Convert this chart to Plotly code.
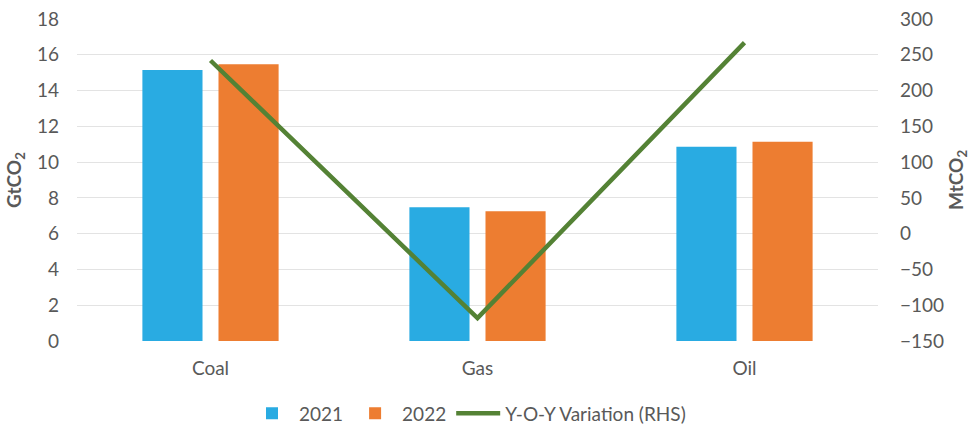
import plotly.graph_objects as go

categories = ["Coal", "Gas", "Oil"]
values_2021 = [15.15, 7.47, 10.86]
values_2022 = [15.47, 7.25, 11.14]
yoy_variation = [242, -118, 267]

left_ticks = list(range(0, 19, 2))
right_ticks = list(range(-150, 301, 50))

FONT = "Lato"
GREY = "#595959"
FS = 19

fig = go.Figure()
fig.add_trace(go.Bar(x=categories, y=values_2021, name="2021",
                     marker=dict(color="#29ABE2", line=dict(width=0))))
fig.add_trace(go.Bar(x=categories, y=values_2022, name="2022",
                     marker=dict(color="#ED7D31", line=dict(width=0))))
fig.add_trace(go.Scatter(x=categories, y=yoy_variation, name="Y-O-Y Variation (RHS)",
                         mode="lines", line=dict(color="#548235", width=4.5),
                         yaxis="y2"))

fig.update_layout(
    width=976, height=429,
    margin=dict(l=77, r=98, t=19, b=88, autoexpand=False),
    paper_bgcolor="white", plot_bgcolor="white",
    font=dict(family=FONT, size=FS, color=GREY),
    barmode="group", bargap=0.43, bargroupgap=0.21,
    showlegend=True,
    legend=dict(orientation="h", x=(468 - 77) / 801, xanchor="center", y=-0.225, yanchor="middle",
                font=dict(family=FONT, size=FS, color=GREY), traceorder="normal",
                itemwidth=44),
    xaxis=dict(showgrid=False, showline=False, ticks="", automargin=False,
               ticklabelstandoff=14, tickfont=dict(size=FS, color=GREY)),
    yaxis=dict(range=[0, 18], tickvals=left_ticks, showgrid=True, gridcolor="#e3e3e3",
               gridwidth=1.3, zeroline=False, showline=False, ticks="", automargin=False,
               ticklabelstandoff=17),
    yaxis2=dict(range=[-150, 300], tickvals=right_ticks, overlaying="y", side="right",
                showgrid=False, zeroline=False, showline=False, ticks="", automargin=False,
                ticklabelstandoff=21),
    annotations=[
        dict(text="<b>GtCO<sub>2</sub></b>", xref="paper", yref="paper",
             x=-77/801 + 15/801, y=0.5, xanchor="center", yanchor="middle",
             textangle=-90, showarrow=False, font=dict(size=FS, color=GREY)),
        dict(text="<b>MtCO<sub>2</sub></b>", xref="paper", yref="paper",
             x=1 + (957 - 878)/801, y=0.5, xanchor="center", yanchor="middle",
             textangle=-90, showarrow=False, font=dict(size=FS, color=GREY)),
    ],
)

fig.write_html("out.html", config={"displayModeBar": False},
               post_script="document.body.style.margin='0';document.body.style.overflow='hidden';")
